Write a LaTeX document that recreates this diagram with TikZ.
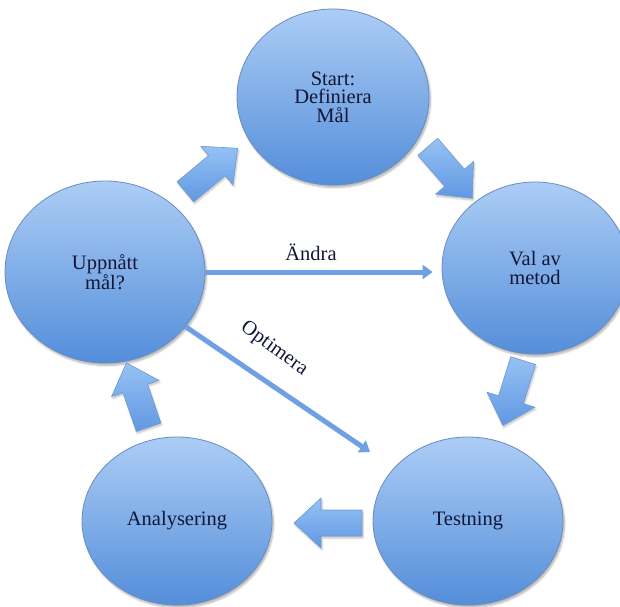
\documentclass[tikz,border=0pt]{standalone}
\usepackage{fontspec}
\setmainfont{Liberation Serif}
\usetikzlibrary{shapes.geometric,arrows.meta,shadows.blur,calc}

\definecolor{circTop}{RGB}{172,205,245}
\definecolor{circMid}{RGB}{128,174,235}
\definecolor{circBot}{RGB}{84,142,218}
\definecolor{circLine}{RGB}{105,140,195}
\definecolor{arrTop}{RGB}{150,194,244}
\definecolor{arrBot}{RGB}{96,152,226}
\definecolor{arrLine}{RGB}{110,152,212}
\definecolor{connBlue}{RGB}{112,160,228}
\definecolor{ink}{RGB}{18,22,55}

\tikzset{
  stage/.style={ellipse, draw=circLine, line width=0.8pt,
    top color=circTop, middle color=circMid, bottom color=circBot,
    text=ink, align=center, inner sep=0pt,
    font=\fontsize{20.5}{18.5}\selectfont,
    blur shadow={shadow xshift=1.5pt, shadow yshift=-2.5pt,
                 shadow blur steps=6, shadow opacity=30}},
  arrowbody/.style={draw=arrLine, line width=0.6pt,
    top color=arrTop, bottom color=arrBot,
    blur shadow={shadow xshift=1pt, shadow yshift=-2pt,
                 shadow blur steps=5, shadow opacity=25}},
  conn/.style={draw=connBlue, line width=5pt,
    -{Triangle[width=14pt,length=10pt]}},
  lbl/.style={text=ink, font=\fontsize{20.5}{20}\selectfont, inner sep=0pt},
  pics/blockarrow/.style={code={
    \path[arrowbody] (-34,-13) -- (7,-13) -- (7,-25) -- (34,0)
      -- (7,25) -- (7,13) -- (-34,13) -- cycle;}}
}

\begin{document}
\begin{tikzpicture}[x=1pt,y=-1pt]
  \useasboundingbox (0,0) rectangle (620,606);

  % the five stages of the cycle
  \node[stage, minimum width=192pt, minimum height=176pt] (start) at (333,97)
    {Start:\\Definiera\\Mål};
  \node[stage, minimum width=186pt, minimum height=172pt] (val) at (535,268)
    {Val av\\metod};
  \node[stage, minimum width=190pt, minimum height=168pt] (test) at (468,521)
    {Testning};
  \node[stage, minimum width=190pt, minimum height=168pt] (anal) at (177,521)
    {Analysering};
  \node[stage, minimum width=200pt, minimum height=182pt] (up) at (105,272)
    {Uppnått\\mål?};

  % block arrows between neighbouring stages
  \pic[rotate=39.7]  (ba1) at (211.5,170) {blockarrow};
  \pic[rotate=-49.2] (ba2) at (450,172.5) {blockarrow};
  \pic[rotate=-107.4](ba3) at (513,393)   {blockarrow};
  \pic[rotate=180]   (ba4) at (328,523)   {blockarrow};
  \pic[rotate=109]   (ba5) at (137.5,395) {blockarrow};

  % feedback connectors
  \coordinate (optTip) at (370,452);
  \draw[conn, shorten >=9pt] (up.east) -- (up.east -| val.west);
  \draw[conn] (up) -- (optTip);

  \node[lbl] (andra) at (311,252) {Ändra};
  \node[lbl, rotate=-36] (optim) at (274,349) {Optimera};
\end{tikzpicture}
\end{document}
